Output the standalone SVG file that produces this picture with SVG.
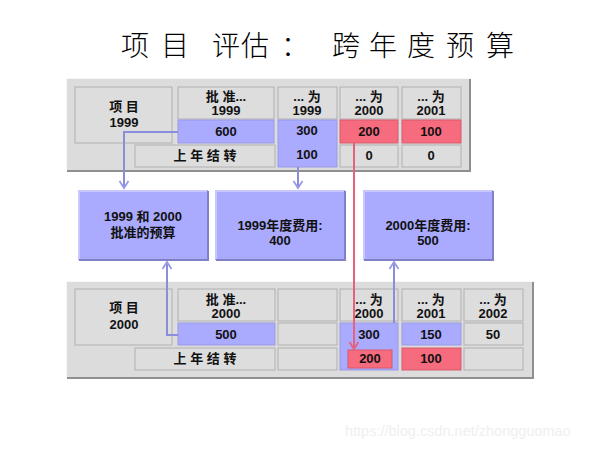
<svg xmlns="http://www.w3.org/2000/svg" width="600" height="450" viewBox="0 0 600 450">
<defs>
<style>
.t{font-family:"Liberation Sans","Noto Sans CJK SC",sans-serif;font-size:13px;font-weight:bold;fill:#111;text-anchor:middle}
.panel{fill:#dcdcdc}
.cell{fill:#dddddd;stroke:#b0b0b0;stroke-width:1}
.blue{fill:#aaaaff;stroke:#9a9ae8;stroke-width:1}
.red{fill:#f66b7e;stroke:#d65a6c;stroke-width:1}
.box{fill:#aaaaff}
.hi{stroke:#ffffff;stroke-width:1.5;fill:none}
.sh{stroke:#8f8f8f;stroke-width:2;fill:none}
.bhi{stroke:#c8c8ff;stroke-width:2;fill:none}
.bsh{stroke:#8080c8;stroke-width:2;fill:none}
.cb{fill:none;stroke:#8c8cdc;stroke-width:2}
.cr{fill:none;stroke:#e8607a;stroke-width:2}
</style>
<marker id="ab" markerUnits="userSpaceOnUse" markerWidth="14" markerHeight="14" viewBox="-9 -7 12 14" refX="0" refY="0" orient="auto">
<path d="M-7,-4.5 L0,0 L-7,4.5" fill="none" stroke="#9a9ae6" stroke-width="1.8"/>
</marker>
<marker id="ar" markerUnits="userSpaceOnUse" markerWidth="14" markerHeight="14" viewBox="-9 -7 12 14" refX="0" refY="0" orient="auto">
<path d="M-7,-4.5 L0,0 L-7,4.5" fill="none" stroke="#e8607a" stroke-width="1.8"/>
</marker>
</defs>
<rect width="600" height="450" fill="#ffffff"/>

<text x="135 175 226 255 295 346 383 421 460 500" y="56" font-family="Noto Sans CJK SC, sans-serif" font-size="28" font-weight="300" text-anchor="middle" fill="#000">项目评估：跨年度预算</text>

<g id="panel1999">
<rect class="panel" x="66" y="78" width="404" height="93"/>
<path class="hi" d="M66,171 V78 H470"/>
<path class="sh" d="M67,171 H470 V79"/>
<rect class="cell" x="75" y="87" width="97" height="56"/>
<text class="t" x="124" y="111">项 目</text>
<text class="t" x="124" y="127">1999</text>
<rect class="cell" x="178" y="87" width="96" height="32"/>
<text class="t" x="226" y="101">批 准...</text>
<text class="t" x="226" y="115">1999</text>
<rect class="blue" x="178" y="120" width="96" height="23"/>
<text class="t" x="226" y="136">600</text>
<rect class="cell" x="278" y="87" width="59" height="32"/>
<text class="t" x="307" y="101">... 为</text>
<text class="t" x="307" y="115">1999</text>
<rect class="blue" x="278" y="120" width="59" height="47"/>
<text class="t" x="307" y="135">300</text>
<text class="t" x="307" y="159">100</text>
<rect class="cell" x="340" y="87" width="58" height="32"/>
<text class="t" x="369" y="101">... 为</text>
<text class="t" x="369" y="115">2000</text>
<rect class="red" x="340" y="120" width="58" height="23"/>
<text class="t" x="369" y="136">200</text>
<rect class="cell" x="402" y="87" width="59" height="32"/>
<text class="t" x="431" y="101">... 为</text>
<text class="t" x="431" y="115">2001</text>
<rect class="red" x="402" y="120" width="59" height="23"/>
<text class="t" x="431" y="136">100</text>
<rect class="cell" x="135" y="145" width="140" height="22"/>
<text class="t" x="205" y="160">上 年 结 转</text>
<rect class="cell" x="340" y="145" width="58" height="22"/>
<text class="t" x="369" y="160">0</text>
<rect class="cell" x="402" y="145" width="59" height="22"/>
<text class="t" x="431" y="160">0</text>
</g>

<g id="box1">
<rect class="box" x="78" y="190" width="130" height="70"/>
<path class="bhi" d="M79,259 V191 H207"/>
<path class="bsh" d="M79,260 H208 V191"/>
<text class="t" x="143" y="221">1999 和 2000</text>
<text class="t" x="143" y="237">批准的预算</text>
</g>
<g id="box2">
<rect class="box" x="215" y="190" width="130" height="70"/>
<path class="bhi" d="M216,259 V191 H344"/>
<path class="bsh" d="M216,260 H345 V191"/>
<text class="t" x="280" y="230">1999年度费用:</text>
<text class="t" x="280" y="245">400</text>
</g>
<g id="box3">
<rect class="box" x="363" y="190" width="130" height="70"/>
<path class="bhi" d="M364,259 V191 H492"/>
<path class="bsh" d="M364,260 H493 V191"/>
<text class="t" x="428" y="230">2000年度费用:</text>
<text class="t" x="428" y="245">500</text>
</g>

<g id="panel2000">
<rect class="panel" x="66" y="281" width="467" height="97"/>
<path class="hi" d="M66,378 V281 H533"/>
<path class="sh" d="M67,378 H533 V282"/>
<rect class="cell" x="75" y="289" width="97" height="56"/>
<text class="t" x="124" y="312">项 目</text>
<text class="t" x="124" y="329">2000</text>
<rect class="cell" x="178" y="289" width="97" height="32"/>
<text class="t" x="226" y="304">批 准...</text>
<text class="t" x="226" y="318">2000</text>
<rect class="blue" x="178" y="323" width="97" height="22"/>
<text class="t" x="226" y="339">500</text>
<rect class="cell" x="278" y="289" width="59" height="32"/>
<rect class="cell" x="278" y="323" width="59" height="22"/>
<rect class="cell" x="278" y="348" width="59" height="22"/>
<rect class="cell" x="340" y="289" width="58" height="32"/>
<text class="t" x="369" y="304">... 为</text>
<text class="t" x="369" y="318">2000</text>
<rect class="blue" x="340" y="323" width="58" height="47"/>
<text class="t" x="369" y="339">300</text>
<rect class="red" x="348" y="350" width="44" height="18"/>
<text class="t" x="370" y="363">200</text>
<rect class="cell" x="402" y="289" width="59" height="32"/>
<text class="t" x="431" y="304">... 为</text>
<text class="t" x="431" y="318">2001</text>
<rect class="blue" x="402" y="323" width="59" height="22"/>
<text class="t" x="431" y="339">150</text>
<rect class="red" x="402" y="348" width="59" height="22"/>
<text class="t" x="431" y="363">100</text>
<rect class="cell" x="464" y="289" width="59" height="32"/>
<text class="t" x="493" y="304">... 为</text>
<text class="t" x="493" y="318">2002</text>
<rect class="cell" x="464" y="323" width="59" height="22"/>
<text class="t" x="493" y="339">50</text>
<rect class="cell" x="464" y="348" width="59" height="22"/>
<rect class="cell" x="135" y="348" width="140" height="22"/>
<text class="t" x="205" y="363">上 年 结 转</text>
</g>

<g id="connectors">
<path class="cb" d="M178,132 H124 V188" marker-end="url(#ab)"/>
<path class="cb" d="M298,167 V188" marker-end="url(#ab)"/>
<path class="cr" d="M354,143 V349" marker-end="url(#ar)"/>
<path class="cb" d="M178,335 H167 V262" marker-end="url(#ab)"/>
<path class="cb" d="M394,323 V262" marker-end="url(#ab)"/>
</g>

<text x="345" y="436" font-family="Liberation Sans, sans-serif" font-size="14.5" fill="#efefef">https://blog.csdn.net/zhongguomao</text>
</svg>
